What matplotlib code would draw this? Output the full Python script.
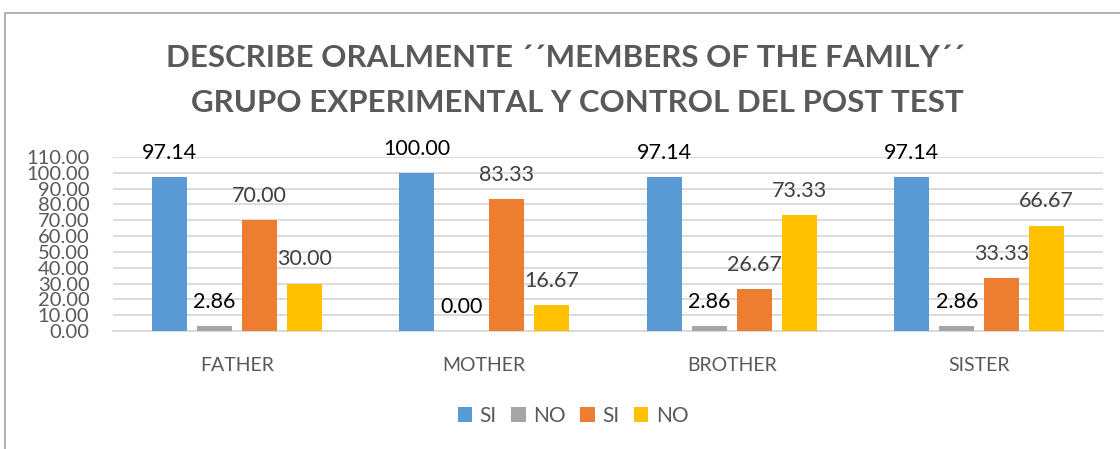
import numpy as np
import matplotlib.pyplot as plt
from matplotlib.patches import Patch, Rectangle

# Data
categories = ['FATHER', 'MOTHER', 'BROTHER', 'SISTER']
series_names = ['SI', 'NO', 'SI', 'NO']
si_exp = [97.14, 100.00, 97.14, 97.14]
no_exp = [2.86, 0.00, 2.86, 2.86]
si_ctrl = [70.00, 83.33, 26.67, 33.33]
no_ctrl = [30.00, 16.67, 73.33, 66.67]
yticks = np.arange(0, 111, 10)

colors = ['#5B9BD5', '#A5A5A5', '#ED7D31', '#FFC000']
label_colors = ['black', 'black', '#404040', '#404040']
title_lines = ['DESCRIBE ORALMENTE \u00b4\u00b4MEMBERS OF THE FAMILY\u00b4\u00b4',
               'GRUPO EXPERIMENTAL Y CONTROL DEL POST TEST']

plt.rcParams['font.family'] = ['Lato', 'DejaVu Sans']

W, H = 1120, 449
fig = plt.figure(figsize=(W / 100, H / 100), dpi=100)

# chart border (left and top edges visible)
fig.add_artist(Rectangle((5 / W, -0.1), 1.2, 1 - 13 / H + 0.1, transform=fig.transFigure,
                         fill=False, edgecolor='#A6A6A6', linewidth=1.2))

ax = fig.add_axes([113 / W, (H - 331) / H, (1103 - 113) / W, (331 - 157) / H])

x = np.arange(len(categories))
step = 45 / 247.5
width = 35 / 247.5
all_series = [si_exp, no_exp, si_ctrl, no_ctrl]
for i, vals in enumerate(all_series):
    pos = x + (i - 1.5) * step
    ax.bar(pos, vals, width=width, color=colors[i], zorder=3)
    for px, v in zip(pos, vals):
        ax.annotate(f'{v:.2f}', (px, v), xytext=(0, 13), textcoords='offset points',
                    ha='center', va='baseline', fontsize=15.5, color=label_colors[i],
                    zorder=4, annotation_clip=False)

ax.set_xlim(-0.5, 3.5)
ax.set_ylim(0, 110)
ax.set_yticks(yticks)
ax.set_yticklabels([f'{t:.2f}' for t in yticks], fontsize=14.5, color='#595959')
ax.set_xticks(x)
ax.set_xticklabels(categories, fontsize=14, color='#595959')
ax.tick_params(axis='y', length=0, pad=17)
ax.tick_params(axis='x', length=0, pad=19)
ax.grid(axis='y', color='#D9D9D9', linewidth=1.3, zorder=0)
for s in ['top', 'right', 'left']:
    ax.spines[s].set_visible(False)
ax.spines['bottom'].set_color('#D9D9D9')
ax.spines['bottom'].set_linewidth(1.3)

fig.text(565 / W, 1 - 58 / H, title_lines[0], ha='center', va='center',
         fontsize=22.5, fontweight='bold', color='#595959')
fig.text(577 / W, 1 - 103 / H, title_lines[1], ha='center', va='center',
         fontsize=22.5, fontweight='bold', color='#595959')

handles = [Patch(facecolor=c, edgecolor='none') for c in colors]
fig.legend(handles, series_names, loc='center', bbox_to_anchor=(573 / W, 1 - 416 / H),
           ncol=4, frameon=False, fontsize=15, handlelength=0.7, handleheight=0.7,
           handletextpad=0.35, columnspacing=0.7, labelcolor='#595959')

fig.savefig('out.png', dpi=100)
